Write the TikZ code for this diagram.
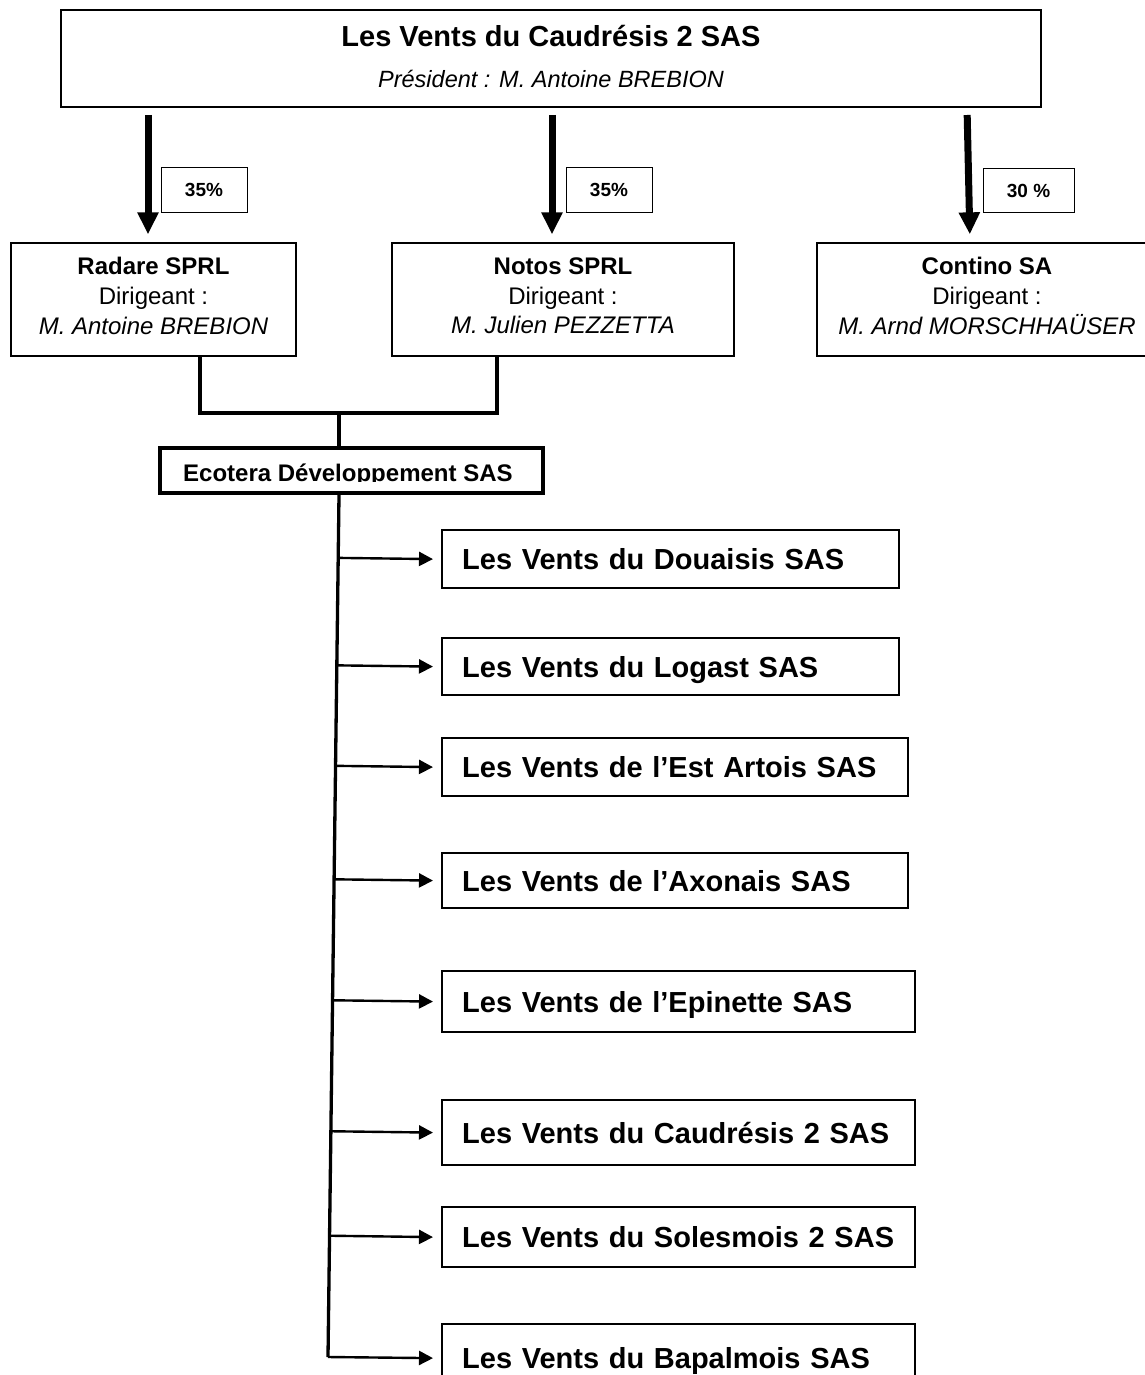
\documentclass[tikz,border=0pt]{standalone}
\usepackage{fontspec}
\setmainfont{Liberation Sans}
\usepackage{tikz}
\usetikzlibrary{arrows.meta}
\usetikzlibrary{calc}

\begin{document}
\begin{tikzpicture}[
  x=1pt, y=-1pt,
  every node/.style={align=center, inner sep=0pt},
  box/.style={draw, line width=1.3pt},
  pct/.style={draw, line width=1pt, minimum width=86pt, minimum height=44pt, font=\bfseries\fontsize{19}{23}\selectfont},
  filiale/.style={draw, line width=2.4pt, anchor=north west, inner xsep=20pt, align=left, text height=20.8pt, text depth=0pt, font=\bfseries\fontsize{29}{35}\selectfont},
  share/.style={line width=7pt, -{Triangle[length=22pt, width=20pt]}, shorten <=8pt, shorten >=8pt},
  link/.style={line width=3.3pt},
  branch/.style={line width=2.4pt, -{Triangle[length=14pt, width=14pt]}, shorten >=8pt},
  big/.style={font=\bfseries\fontsize{29}{35}\selectfont},
  small/.style={font=\fontsize{24}{29.6}\selectfont}
]
\path[use as bounding box, fill=white] (0,0) rectangle (1144,1375);

\node[box, minimum width=980pt, minimum height=97pt] (holding) at (551,58.5) {};
\node[big, anchor=base] (holdingname) at (551,47) {Les Vents du Caudrésis 2 SAS};
\node[font=\itshape\fontsize{23.5}{28}\selectfont, anchor=base] (holdingboss) at (551,88) {Président : M. Antoine BREBION};

\node[box, minimum width=285pt, minimum height=113pt] (radare) at (153.5,299.5) {};
\node[small] (radaretxt) at (153.5,296) {\textbf{Radare SPRL}\\Dirigeant :\\\textit{M. Antoine BREBION}};
\node[box, minimum width=342pt, minimum height=113pt] (notos) at (563,299.5) {};
\node[small] (notostxt) at (563,296) {\textbf{Notos SPRL}\\Dirigeant :\\\textit{M. Julien PEZZETTA}};
\node[box, minimum width=340pt, minimum height=113pt] (contino) at (987,299.5) {};
\node[small] (continotxt) at (987,296) {\textbf{Contino SA}\\Dirigeant :\\\textit{M. Arnd MORSCHHAÜSER}};

\coordinate (s1) at (148,107);
\coordinate (s2) at (552,107);
\coordinate (s3) at (967,107);
\draw[share] (s1) -- (s1 |- radare.north);
\draw[share] (s2) -- (s2 |- notos.north);
\draw[share] (s3) -- ([xshift=3pt]s3 |- contino.north);
\node[pct] (p1) at (204,190) {35\%};
\node[pct] (p2) at (609,190) {35\%};
\node[pct, minimum width=91pt] (p3) at (1028.5,190.5) {30 \%};

\coordinate (joint) at (339,413);
\draw[link] ([xshift=46.5pt]radare.south) |- (joint) -| ([xshift=-66pt]notos.south);

\node[box, line width=4pt, minimum width=383pt, minimum height=45pt] (ecotera) at (351.5,470.5) {};
\begin{scope}
  \clip (162,450) rectangle (541,481.5);
  \node[font=\bfseries\fontsize{24}{29}\selectfont, anchor=base west] (ecoteratxt) at (183,481) {Ecotera Développement SAS};
\end{scope}
\draw[link] (joint) -- (joint |- ecotera.north);

\node[filiale, text width=417pt, minimum height=58pt] (douaisis) at (441,529) {Les Vents du Douaisis SAS};
\node[filiale, text width=417pt, minimum height=57pt] (logast) at (441,637) {Les Vents du Logast SAS};
\node[filiale, text width=426pt, minimum height=58pt] (estartois) at (441,737) {Les Vents de l’Est Artois SAS};
\node[filiale, text width=426pt, minimum height=55pt] (axonais) at (441,852) {Les Vents de l’Axonais SAS};
\node[filiale, text width=433pt, minimum height=61pt] (epinette) at (441,970) {Les Vents de l’Epinette SAS};
\node[filiale, text width=433pt, minimum height=65pt] (caudresis) at (441,1099) {Les Vents du Caudrésis 2 SAS};
\node[filiale, text width=433pt, minimum height=60pt] (solesmois) at (441,1206) {Les Vents du Solesmois 2 SAS};
\node[filiale, text width=433pt, minimum height=68pt] (bapalmois) at (441,1323) {Les Vents du Bapalmois SAS};

\coordinate (trunktop) at (joint |- ecotera.south);
\coordinate (trunkend) at (328,1357);
\draw[link] (trunktop) -- (trunkend);
\foreach \f in {douaisis, logast, estartois, axonais, epinette, caudresis, solesmois}
  \draw[branch] ($(trunktop)!(\f.west)!(trunkend)$) -- (\f.west);
\draw[branch] (trunkend) -- (bapalmois.west);
\end{tikzpicture}
\end{document}
